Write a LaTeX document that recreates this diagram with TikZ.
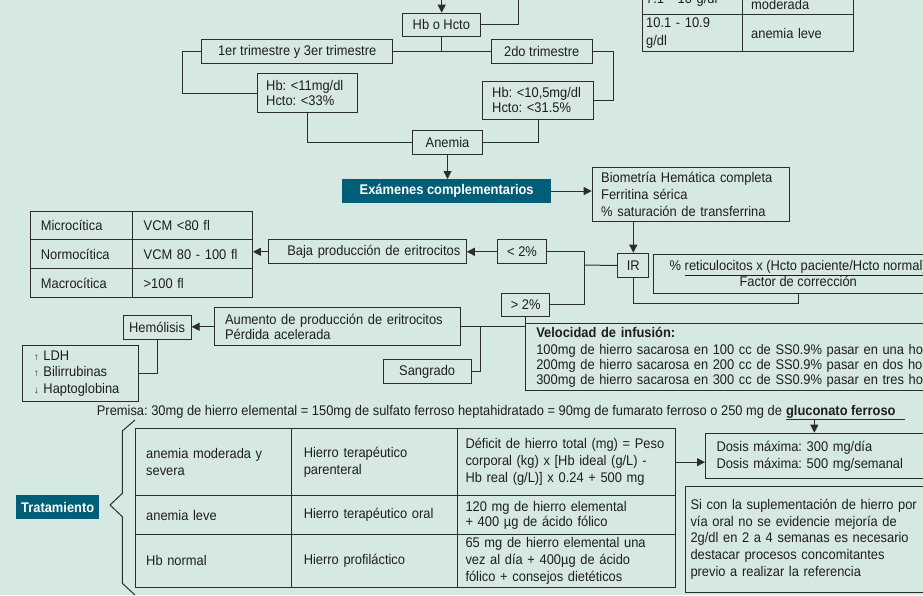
\documentclass[tikz,border=0pt]{standalone}
\usepackage{fontspec}
\setmainfont{Liberation Sans}[FakeStretch=0.92]
\frenchspacing
\usetikzlibrary{arrows.meta,positioning}
\definecolor{bgc}{RGB}{214,232,226}
\definecolor{tealc}{RGB}{0,94,120}
\definecolor{linec}{RGB}{45,45,45}
\definecolor{txtc}{RGB}{30,30,30}
\tikzset{
  box/.style={draw=linec, line width=1pt, text=txtc, inner sep=0pt, anchor=north west, align=center},
  lbox/.style 2 args={box, align=left, inner xsep=#1, text width=#2},
  darkbox/.style={fill=tealc, text=white, font=\bfseries\fontsize{14}{16}\selectfont, inner sep=0pt, anchor=north west},
  ln/.style={draw=linec, line width=1pt},
  arr/.style={ln, -{Triangle[length=8pt,width=8pt]}},
}
\begin{document}
\begin{tikzpicture}[x=1pt, y=-1pt, font=\fontsize{14}{16.7}\selectfont]
\useasboundingbox (0,0) rectangle (923,595);
\fill[bgc] (0,0) rectangle (923,595);
\clip (0,0) rectangle (923,595);

% trimestres
\node[box, minimum width=78.3pt, minimum height=23.3pt] (hb) at (401.7,12.7) {Hb o Hcto};
\coordinate (intop) at (441.7,-2);
\coordinate (outtop) at (518.3,-2);
\node[box, minimum width=191.3pt, minimum height=23.4pt] (tri13) at (201,39.3) {1er trimestre y 3er trimestre};
\node[box, minimum width=101pt, minimum height=23.4pt] (tri2) at (490.7,39.3) {2do trimestre};
\node[lbox={8.4pt}{82.6pt}, minimum height=38.4pt, font=\fontsize{14}{15}\selectfont] (lim13) at (257.3,73.3) {Hb: <11mg/dl\\Hcto: <33\%};
\node[lbox={9.4pt}{92.2pt}, minimum height=38.3pt, font=\fontsize{14}{15}\selectfont] (lim2) at (482.3,80.7) {Hb: <10,5mg/dl\\Hcto: <31.5\%};
\node[box, minimum width=69.4pt, minimum height=24pt] (anemia) at (412.3,130) {Anemia};

\draw[arr] (intop) -- (intop |- hb.north);
\draw[ln] (hb.east) -| (outtop);
\draw[ln] (hb.south) -- (hb.south |- tri13.east);
\draw[ln] (tri13.east) -- (tri2.west);
\draw[ln] (tri13.west) -- ++(-18.7,0) |- (lim13.west);
\draw[ln] (tri2.east) -- ++(21,0) |- (lim2.east);
\draw[ln] (lim13.south) |- (anemia.west);
\draw[ln] (lim2.south) |- (anemia.east);

% severidad
\node[lbox={4pt}{92pt}, minimum height=30pt] (sev1) at (641.7,-16) {7.1 - 10 g/dl};
\node[lbox={9pt}{93.3pt}, minimum height=20pt] (sev1n) at (741.7,-6) {moderada};
\node[lbox={4pt}{92pt}, minimum height=37pt, font=\fontsize{14}{18}\selectfont] (sev2) at (641.7,14) {10.1 - 10.9\\g/dl};
\node[lbox={9pt}{93.3pt}, minimum height=37pt] (sev2n) at (741.7,14) {anemia leve};

% examenes
\node[darkbox, minimum width=209pt, minimum height=23.7pt] (exam) at (342,179) {Exámenes complementarios};
\node[lbox={9pt}{179.6pt}, minimum height=53.4pt] (bio) at (591.7,167.3) {Biometría Hemática completa\\Ferritina sérica\\\% saturación de transferrina};
\node[box, minimum width=31pt, minimum height=24.6pt] (ir) at (617.3,252.7) {IR};
\node[box, minimum width=290pt, minimum height=38.7pt, font=\fontsize{14}{14.7}\selectfont] (formula) at (652.7,254) {\% \underline{reticulocitos x (Hcto paciente/Hcto normal)}\\Factor de corrección};
\node[box, minimum width=48.3pt, minimum height=24pt] (lt2) at (497.4,239.3) {< 2\%};
\node[box, minimum width=47.4pt, minimum height=23.3pt] (gt2) at (501.4,292.7) {> 2\%};
\node[lbox={6pt}{186.1pt}, align=right, minimum height=24pt] (baja) at (267.7,239.3) {Baja producción de eritrocitos};

\node[lbox={10pt}{81.3pt}, minimum height=28.3pt] (micro) at (30.4,211) {Microcítica};
\node[lbox={11.5pt}{97.2pt}, minimum height=28.3pt] (microv) at (131.7,211) {VCM <80 fl};
\node[lbox={10pt}{81.3pt}, minimum height=29pt] (normo) at (30.4,239.3) {Normocítica};
\node[lbox={11.5pt}{97.2pt}, minimum height=29pt] (normov) at (131.7,239.3) {VCM 80 - 100 fl};
\node[lbox={10pt}{81.3pt}, minimum height=28.4pt] (macro) at (30.4,268.3) {Macrocítica};
\node[lbox={11.5pt}{97.2pt}, minimum height=28.4pt] (macrov) at (131.7,268.3) {>100 fl};

\node[lbox={11pt}{224pt}, minimum height=38pt, font=\fontsize{14}{15.7}\selectfont] (aum) at (213.5,307.3) {Aumento de producción de eritrocitos\\Pérdida acelerada};
\node[box, minimum width=68pt, minimum height=24pt] (hemo) at (122.6,315.3) {Hemólisis};
\node[box, minimum width=87.7pt, minimum height=23.4pt] (sang) at (382.8,359.3) {Sangrado};
\node[lbox={12pt}{92.7pt}, minimum height=55.4pt] (marks) at (21.7,345.3) {{\fontsize{10}{10}\selectfont ↑} LDH\\{\fontsize{10}{10}\selectfont ↑} Bilirrubinas\\{\fontsize{10}{10}\selectfont ↓} Haptoglobina};
\node[lbox={10.8pt}{480pt}, minimum height=66.7pt, font=\fontsize{14}{15}\selectfont] (velo) at (525,323.3) {\textbf{Velocidad de infusión:}\\[2pt]100mg de hierro sacarosa en 100 cc de SS0.9\% pasar en una horas\\200mg de hierro sacarosa en 200 cc de SS0.9\% pasar en dos horas\\300mg de hierro sacarosa en 300 cc de SS0.9\% pasar en tres horas};

\draw[arr] (anemia.south) -- (anemia.south |- exam.north);
\draw[arr] (exam.east) -- (exam.east -| bio.west);
\draw[arr] (ir.north |- bio.south) -- (ir.north);
\coordinate (irj) at (584.4,265);
\draw[ln] (lt2.east) -| (irj) |- (gt2.east);
\draw[ln] (irj) -- (ir.west);
\draw[arr] (lt2.west) -- (baja.east);
\draw[arr] (baja.west) -- (baja.west -| normov.east);
\draw[ln] (ir.south) -- ++(0,25.4) -| (formula.south);
\draw[ln] (gt2.south) |- (aum.east);
\draw[ln] (sang.east) -| ([xshift=20pt]aum.east);
\draw[arr] (aum.west) -- (aum.west -| hemo.east);
\draw[ln] (hemo.south) |- (marks.east);

% tratamiento
\node[anchor=west, inner sep=0pt, text=txtc] (premisa) at (96.7,411.7) {Premisa: 30mg de hierro elemental = 150mg de sulfato ferroso heptahidratado = 90mg de fumarato ferroso o 250 mg de};
\node[right=3.6pt of premisa, inner sep=0pt, inner ysep=1.5pt, text=txtc, font=\bfseries\fontsize{14}{16}\selectfont] (glu) {gluconato ferroso};
\node[lbox={11pt}{195.7pt}, minimum height=45.6pt] (dosis) at (705,432.7) {Dosis máxima: 300 mg/día\\Dosis máxima: 500 mg/semanal};
\node[lbox={5pt}{240pt}, minimum height=106pt] (sicon) at (685,485.7) {Si con la suplementación de hierro por\\vía oral no se evidencie mejoría de\\2g/dl en 2 a 4 semanas es necesario\\destacar procesos concomitantes\\previo a realizar la referencia};

\node[lbox={10.7pt}{134.9pt}, minimum height=66.7pt] (mod) at (135,428.3) {anemia moderada y\\severa};
\node[lbox={12pt}{142pt}, minimum height=66.7pt] (modiron) at (291.3,428.3) {Hierro terapéutico\\parenteral};
\node[lbox={7.7pt}{202.3pt}, minimum height=66.7pt, font=\fontsize{14}{17}\selectfont] (moddose) at (457.3,428.3) {Déficit de hierro total (mg) = Peso\\corporal (kg) x [Hb ideal (g/L) -\\Hb real (g/L)] x 0.24 + 500 mg};
\node[lbox={10.7pt}{134.9pt}, minimum height=39pt] (lev) at (135,495) {anemia leve};
\node[lbox={12pt}{142pt}, minimum height=39pt] (leviron) at (291.3,495) {Hierro terapéutico oral};
\node[lbox={7.7pt}{202.3pt}, minimum height=39pt, font=\fontsize{14}{15}\selectfont] (levdose) at (457.3,495) {120 mg de hierro elemental\\+ 400 µg de ácido fólico};
\node[lbox={10.7pt}{134.9pt}, minimum height=52.7pt] (nor) at (135,534) {Hb normal};
\node[lbox={12pt}{142pt}, minimum height=52.7pt] (noriron) at (291.3,534) {Hierro profiláctico};
\node[lbox={7.7pt}{202.3pt}, minimum height=52.7pt] (nordose) at (457.3,534) {65 mg de hierro elemental una\\vez al día + 400µg de ácido\\fólico + consejos dietéticos};
\node[darkbox, minimum width=83pt, minimum height=24pt] (trat) at (16,495) {Tratamiento};

\draw[ln] (glu.south west) -- ([xshift=9pt]glu.south east);
\draw[arr] (dosis.north |- glu.south) -- (dosis.north);
\draw[arr] (moddose.east) -- (moddose.east -| dosis.west);
\draw[ln] (135,420) -- (122.3,431) -- (122.3,493.3) -- (110,505) -- (122.3,516.7) -- (122.3,583.3) -- (135,595);

\end{tikzpicture}
\end{document}
